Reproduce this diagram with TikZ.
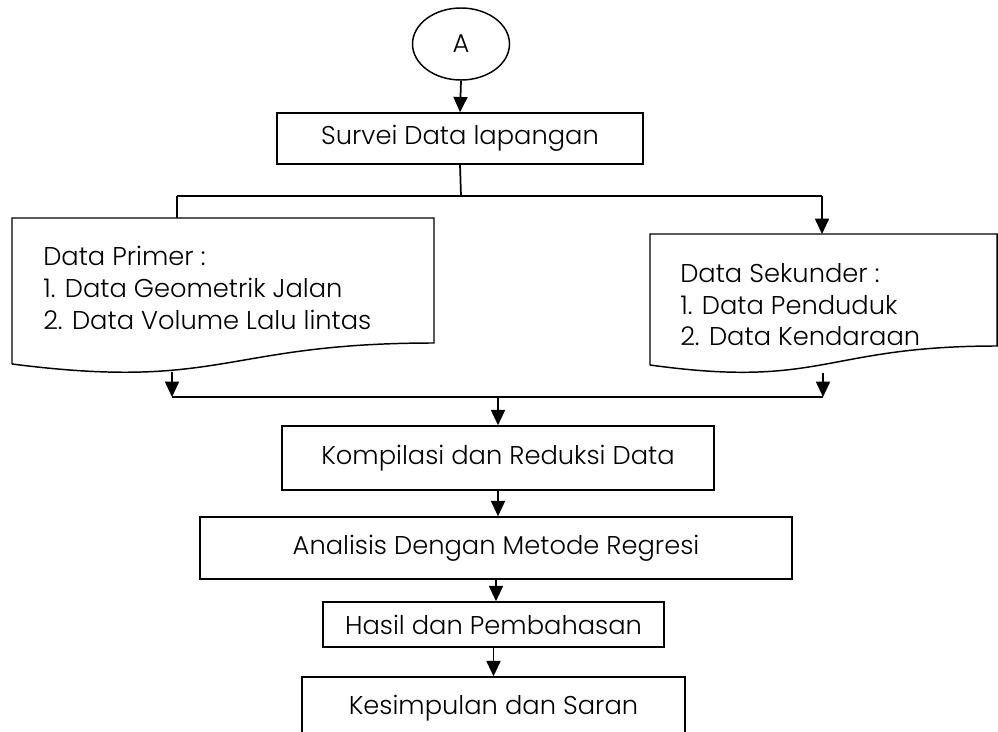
\documentclass[tikz,border=0pt]{standalone}
\usepackage{fontspec}
\setmainfont{Poppins}[UprightFont={* Light}]
\usetikzlibrary{arrows.meta,shapes.geometric}
\begin{document}
\begin{tikzpicture}[x=0.75pt,y=-0.75pt,
  lbl/.style={font=\fontsize{19.3}{23.8}\selectfont},
  box/.style={draw,line width=1.1pt,rectangle,inner sep=0pt,lbl},
  doc/.style={draw,line width=1.1pt},
  conn/.style={line width=1.3pt},
  arr/.style={conn,-{Triangle[length=11.5pt,width=10.5pt]}},
  txt/.style={lbl,align=left,inner sep=0pt,anchor=north west}]
\useasboundingbox (0,0) rectangle (998,731);
\clip (0,0) rectangle (998,731);

% start connector
\node[box,ellipse,minimum width=72.75pt,minimum height=54pt] (A) at (461,44) {A};
\node[box,minimum width=274.5pt,minimum height=38.25pt] (survei) at (460,138.5) {Survei Data lapangan};

% document shapes
\coordinate (pTL) at (12,218);
\coordinate (pTR) at (434,218);
\coordinate (pBR) at (434,343);
\coordinate (pBL) at (12,364);
\draw[doc] (pBL) -- (pTL) -- (pTR) -- (pBR)
  .. controls (223,343) and (223,391) .. (pBL);
\node[txt] (primer) at (43,246) {Data Primer :\\1. Data Geometrik Jalan\\2. Data Volume Lalu lintas};

\coordinate (sTL) at (650,234);
\coordinate (sTR) at (997,234);
\coordinate (sBR) at (997,346);
\coordinate (sBL) at (650,365);
\draw[doc] (sBL) -- (sTL) -- (sTR) -- (sBR)
  .. controls (823.5,346) and (823.5,389) .. (sBL);
\node[txt] (sekunder) at (680,263) {Data Sekunder :\\1. Data Penduduk\\2. Data Kendaraan};

\node[box,minimum width=324pt,minimum height=48pt] (kompilasi) at (498,458) {Kompilasi dan Reduksi Data};
\node[box,minimum width=444pt,minimum height=46.5pt] (analisis) at (496,548) {Analisis Dengan Metode Regresi};
\node[box,minimum width=255.75pt,minimum height=33.75pt] (hasil) at (493.5,624.5) {Hasil dan Pembahasan};
\node[box,minimum width=287.25pt,minimum height=46.5pt] (kesimpulan) at (493.5,708) {Kesimpulan dan Saran};

% split
\coordinate (split) at (461,196);
\coordinate (splitL) at (177,196);
\coordinate (splitR) at (822,196);
\draw[arr] (A.south) -- (survei.north);
\draw[conn] (survei.south) -- (split);
\draw[conn] (splitL) -- (splitR);
\draw[conn] (splitL) -- (splitL |- pTL);
\draw[arr] (splitR) -- (splitR |- sTL);

% merge
\coordinate (pOut) at (172,372);
\coordinate (sOut) at (823,373);
\coordinate (mergeL) at (172,397);
\coordinate (mergeR) at (823,397);
\coordinate (merge) at (498,397);
\draw[arr] (pOut) -- (mergeL);
\draw[arr] (sOut) -- (mergeR);
\draw[conn] (mergeL) -- (mergeR);
\draw[arr] (merge) -- (kompilasi.north);

\draw[arr] (kompilasi.south) -- (kompilasi.south |- analisis.north);
\draw[arr] (analisis.south) -- (analisis.south |- hasil.north);
\draw[arr] (hasil.south) -- (hasil.south |- kesimpulan.north);
\end{tikzpicture}
\end{document}
